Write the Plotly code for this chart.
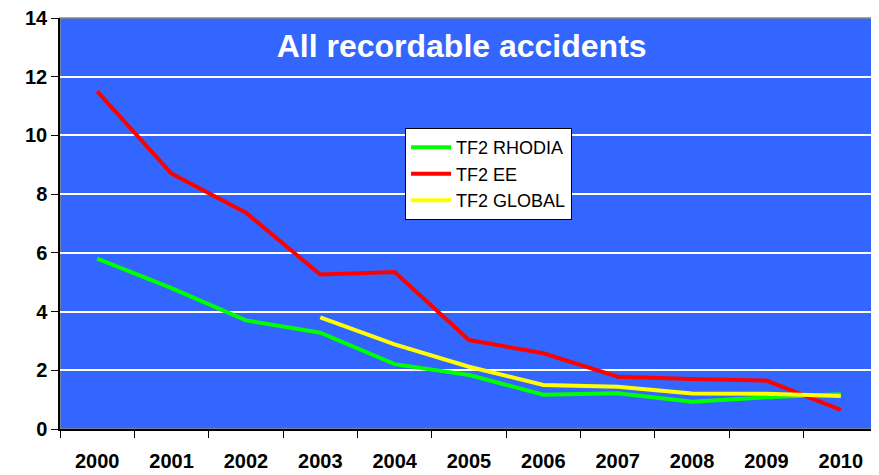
import plotly.graph_objects as go

years = ["2000", "2001", "2002", "2003", "2004", "2005", "2006", "2007", "2008", "2009", "2010"]
tf2_rhodia = [5.8, 4.8, 3.7, 3.28, 2.21, 1.84, 1.17, 1.22, 0.93, 1.08, 1.18]
tf2_ee = [11.5, 8.7, 7.37, 5.26, 5.35, 3.03, 2.58, 1.78, 1.70, 1.65, 0.65]
global_years = ["2003", "2004", "2005", "2006", "2007", "2008", "2009", "2010"]
tf2_global = [3.8, 2.88, 2.12, 1.5, 1.44, 1.21, 1.2, 1.12]
y_ticks = [0, 2, 4, 6, 8, 10, 12, 14]

FONT = "Liberation Sans, Arial, sans-serif"

fig = go.Figure()
fig.add_trace(go.Scatter(x=years, y=tf2_rhodia, mode="lines", name="TF2 RHODIA",
                         line=dict(color="#00FF00", width=4)))
fig.add_trace(go.Scatter(x=years, y=tf2_ee, mode="lines", name="TF2 EE",
                         line=dict(color="#FF0000", width=4)))
fig.add_trace(go.Scatter(x=global_years, y=tf2_global, mode="lines", name="TF2 GLOBAL",
                         line=dict(color="#FFFF00", width=4)))

# page body has an 8px margin: figure spans 871x467 starting at (8, 8)
fig.update_layout(
    width=871, height=467,
    margin=dict(l=52, r=1, t=10, b=46, autoexpand=False),
    paper_bgcolor="white",
    plot_bgcolor="#3366FF",
    font=dict(family=FONT, color="black"),
    title=dict(text="<b>All recordable accidents</b>", font=dict(size=32, color="white", family=FONT),
               x=0.491, xref="paper", xanchor="center", y=1 - 38 / 467, yanchor="middle"),
    legend=dict(x=0.4218, y=0.732, xanchor="left", yanchor="top",
                bgcolor="white", bordercolor="black", borderwidth=1,
                font=dict(size=18, color="black", family=FONT), itemwidth=40),
    showlegend=True,
)
fig.update_xaxes(
    type="category", categoryorder="array", categoryarray=years,
    range=[-0.5, 10.5],
    showgrid=False, showline=True, linecolor="black", linewidth=1.5,
    ticks="outside", tickson="boundaries", ticklen=7, tickcolor="black",
    tickfont=dict(size=20, color="black", family=FONT),
    ticklabelstandoff=13, ticklabeloverflow="allow",
    tickprefix="<b>", ticksuffix="</b>",
)
fig.update_yaxes(
    range=[0, 14], tickvals=y_ticks,
    ticktext=[f"<b>{v}</b>" for v in y_ticks],
    showgrid=True, gridcolor="white", gridwidth=1.5,
    showline=True, linecolor="black", linewidth=1.5,
    ticks="outside", ticklen=7, tickcolor="black",
    tickfont=dict(size=20, color="black", family=FONT),
    ticklabeloverflow="allow",
    zeroline=False,
)
fig.add_shape(type="rect", xref="paper", yref="paper", x0=0, x1=1, y0=0, y1=1,
              line=dict(color="#888888", width=1.5), layer="below")

fig.write_html("out.html")
